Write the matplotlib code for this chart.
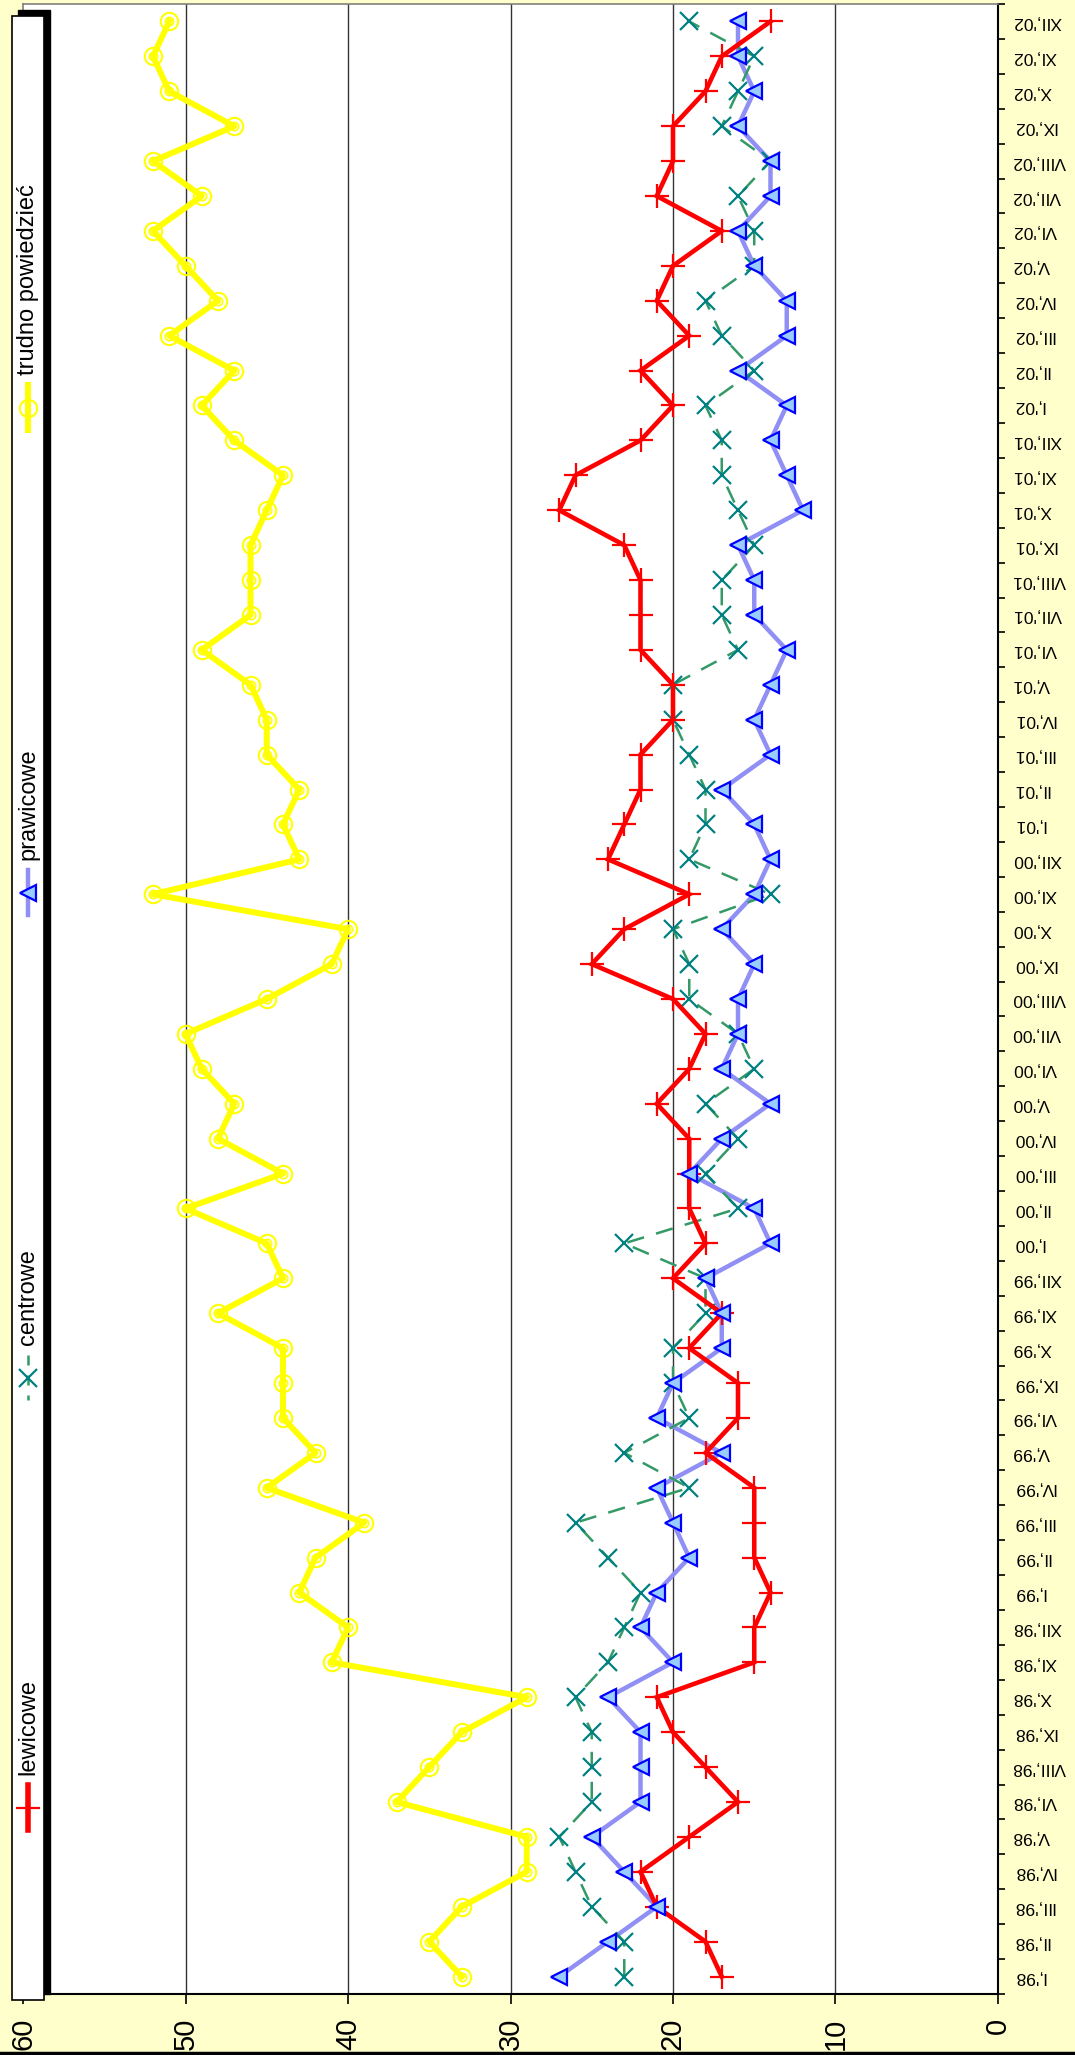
import matplotlib
matplotlib.use('Agg')
import matplotlib.pyplot as plt
from matplotlib.lines import Line2D
from matplotlib.patches import Rectangle
from matplotlib.ticker import FixedLocator

W, H = 1075, 2055

months_98 = ['I', 'II', 'III', 'IV', 'V', 'VI', 'VIII', 'IX', 'X', 'XI', 'XII']
months_99 = ['I', 'II', 'III', 'IV', 'V', 'VI', 'IX', 'X', 'XI', 'XII']
months_full = ['I', 'II', 'III', 'IV', 'V', 'VI', 'VII', 'VIII', 'IX', 'X', 'XI', 'XII']
categories = ([m + ",'98" for m in months_98] + [m + ",'99" for m in months_99] +
              [m + ",'00" for m in months_full] + [m + ",'01" for m in months_full] +
              [m + ",'02" for m in months_full])

lewicowe = [17, 18, 21, 22, 19, 16, 18, 20, 21, 15, 15,
            14, 15, 15, 15, 18, 16, 16, 19, 17, 20,
            18, 19, 19, 19, 21, 19, 18, 20, 25, 23, 19, 24,
            23, 22, 22, 20, 20, 22, 22, 22, 23, 27, 26, 22,
            20, 22, 19, 21, 20, 17, 21, 20, 20, 18, 17, 14]
centrowe = [23, 23, 25, 26, 27, 25, 25, 25, 26, 24, 23,
            22, 24, 26, 19, 23, 19, 20, 20, 18, 18,
            23, 16, 18, 16, 18, 15, 16, 19, 19, 20, 14, 19,
            18, 18, 19, 20, 20, 16, 17, 17, 15, 16, 17, 17,
            18, 15, 17, 18, 15, 15, 16, 14, 17, 16, 15, 19]
prawicowe = [27, 24, 21, 23, 25, 22, 22, 22, 24, 20, 22,
             21, 19, 20, 21, 17, 21, 20, 17, 17, 18,
             14, 15, 19, 17, 14, 17, 16, 16, 15, 17, 15, 14,
             15, 17, 14, 15, 14, 13, 15, 15, 16, 12, 13, 14,
             13, 16, 13, 13, 15, 16, 14, 14, 16, 15, 16, 16]
trudno = [33, 35, 33, 29, 29, 37, 35, 33, 29, 41, 40,
          43, 42, 39, 45, 42, 44, 44, 44, 48, 44,
          45, 50, 44, 48, 47, 49, 50, 45, 41, 40, 52, 43,
          44, 43, 45, 45, 46, 49, 46, 46, 46, 45, 44, 47,
          49, 47, 51, 48, 50, 52, 49, 52, 47, 51, 52, 51]

series_names = ['lewicowe', 'centrowe', 'prawicowe', 'trudno powiedzieć']
value_ticks = [0, 10, 20, 30, 40, 50, 60]

plt.rcParams['font.family'] = ['Liberation Sans', 'DejaVu Sans']

BG = '#FFFFCC'
fig = plt.figure(figsize=(W / 100, H / 100), dpi=100, facecolor=BG)


def fx(x):
    return x / W


def fy(y):
    return 1 - y / H


# plot area: value axis horizontal (60 at left, 0 at right), categories bottom->top
left, right, top, bottom = 23, 998, 4, 1994
ax = fig.add_axes([fx(left), fy(bottom), (right - left) / W, (bottom - top) / H])
ax.set_facecolor('white')
n = len(categories)
ks = list(range(n))
ax.set_xlim(60, 0)
ax.set_ylim(-0.5, n - 0.5)

for v in value_ticks[1:-1]:
    ax.axvline(v, color='#333333', lw=1.0, zorder=1)

# series
ax.plot(lewicowe, ks, color='#FF0000', lw=3.3, marker='+', ms=17, mew=1.6,
        zorder=5, solid_joinstyle='miter')
ax.plot(centrowe, ks, color='#339966', lw=1.8, ls=(0, (7, 5)), zorder=4)
ax.plot(centrowe, ks, ls='none', marker='x', ms=13, mew=1.6, color='#008080', zorder=4)
ax.plot(prawicowe, ks, color='#8F8FF5', lw=3.2, zorder=3)
ax.plot(prawicowe, ks, ls='none', marker='<', ms=11, mew=1.6, mfc='#99CCFF',
        mec='#0000FF', zorder=6)
ax.plot(trudno, ks, color='#FFFF00', lw=4.3, zorder=3)
ax.plot(trudno, ks, ls='none', marker='o', ms=12.5, mew=1.5, mfc='none',
        mec='#FFFF00', zorder=3)
ax.plot(trudno, ks, ls='none', marker='o', ms=6, mew=1.2, mfc='none',
        mec='#FFFF00', zorder=3)

# axes styling
for s in ['top', 'left']:
    ax.spines[s].set_color('#808080')
    ax.spines[s].set_linewidth(1.2)
for s in ['bottom', 'right']:
    ax.spines[s].set_color('black')
    ax.spines[s].set_linewidth(1.5)

ax.set_xticks(value_ticks)
ax.set_xticklabels([str(v) for v in value_ticks], rotation=90, fontsize=21,
                   va='top', ha='center')
ax.tick_params(axis='x', direction='out', length=7, width=1.2, pad=10)

ax.yaxis.tick_right()
ax.set_yticks(ks)
ax.set_yticklabels(categories, rotation=180, fontsize=12.5, ha='left', va='center')
ax.yaxis.set_minor_locator(FixedLocator([k - 0.5 for k in range(n + 1)]))
ax.tick_params(axis='y', which='major', length=0, pad=10.5)
ax.tick_params(axis='y', which='minor', direction='out', length=5, width=1.2, right=True, left=False)

# legend drawn manually (rotated)
fig.patches.append(Rectangle((fx(18), fy(1994)), 32 / W, (1994 - 10) / H,
                             transform=fig.transFigure, facecolor='black',
                             edgecolor='black', zorder=10))
fig.patches.append(Rectangle((fx(12), fy(2000)), 32 / W, (2000 - 16) / H,
                             transform=fig.transFigure, facecolor='white',
                             edgecolor='black', lw=1.2, zorder=11))

cx = 28
entries = [
    # name, line top, line bottom, text start
    (series_names[0], 1785, 1830, 1775),
    (series_names[1], 1355, 1400, 1345),
    (series_names[2], 870, 915, 860),
    (series_names[3], 385, 430, 375),
]
styles = [
    dict(color='#FF0000', lw=4, marker='+', ms=17, mew=1.6, mec='#FF0000'),
    dict(color='#339966', lw=1.8, ls=(0, (4, 4)), marker='x', ms=13, mew=1.6, mec='#008080'),
    dict(color='#8F8FF5', lw=3.2, marker='<', ms=11, mew=1.6, mfc='#99CCFF', mec='#0000FF'),
    dict(color='#FFFF00', lw=4.3, marker='o', ms=12.5, mew=1.5, mfc='none', mec='#FFFF00'),
]
for (name, y1, y2, ty), st in zip(entries, styles):
    ln = Line2D([fx(cx), fx(cx)], [fy(y1), fy(y2)], transform=fig.transFigure,
                markevery=[], zorder=12, **{k: v for k, v in st.items()
                                              if k not in ('marker', 'ms', 'mew', 'mfc', 'mec')})
    fig.lines.append(ln)
    mk = Line2D([fx(cx)], [fy((y1 + y2) / 2)], transform=fig.transFigure, ls='none',
                marker=st['marker'], ms=st['ms'], mew=st['mew'],
                mfc=st.get('mfc', st['color']), mec=st['mec'], zorder=13)
    fig.lines.append(mk)
    fig.text(fx(cx), fy(ty), name, rotation=90, ha='center', va='bottom',
             fontsize=17, zorder=14)

# bottom border line
fig.lines.append(Line2D([0, 1], [fy(2053), fy(2053)], transform=fig.transFigure,
                        color='black', lw=2.5))

fig.savefig('out.png', dpi=100, facecolor=BG)
